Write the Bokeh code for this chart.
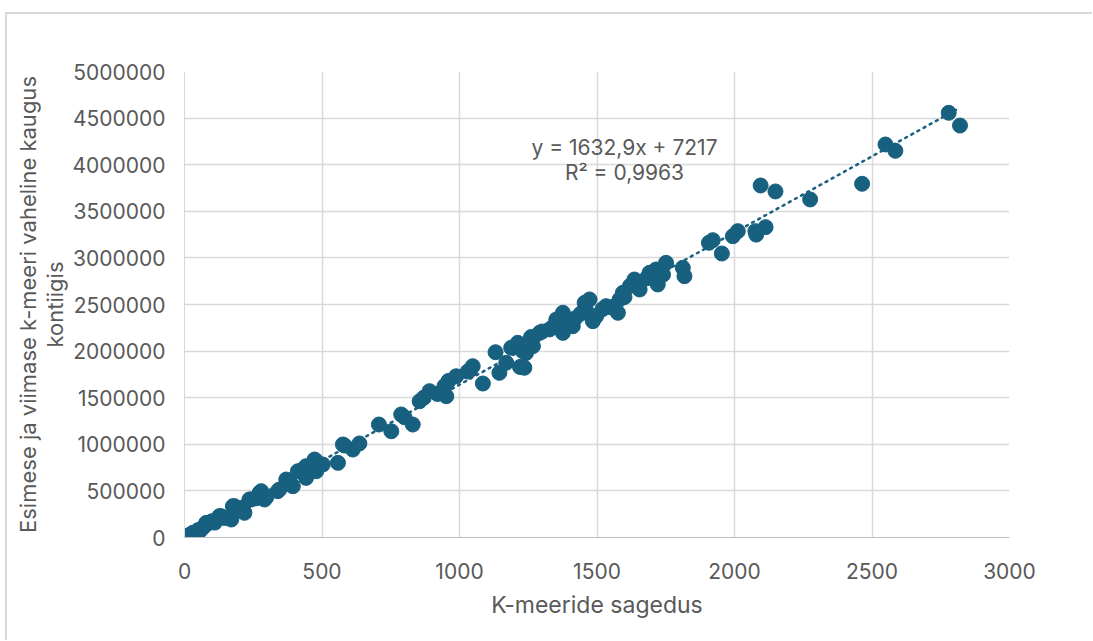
from bokeh.plotting import figure
from bokeh.models import Range1d, SingleIntervalTicker, NumeralTickFormatter, Label, ColumnDataSource
from bokeh.embed import file_html
from bokeh.resources import INLINE

# K-meeride sagedus (x) vs kaugus (y)
kmer_freq = [15, 20, 24, 30, 40, 50, 55, 65, 75, 79, 91, 100, 110, 127, 133, 145, 170, 176, 182, 200,
             212, 218, 236, 242, 260, 273, 279, 291, 297, 339, 345, 370, 376, 388, 394, 412, 430, 442,
             442, 473, 479, 479, 503, 558, 576, 582, 612, 636, 707, 752, 788, 800, 830, 855, 870, 891,
             920, 945, 952, 960, 988, 1030, 1040, 1048, 1085, 1131, 1145, 1170, 1188, 1212, 1220, 1230,
             1236, 1242, 1260, 1267, 1291, 1300, 1327, 1340, 1352, 1360, 1376, 1376, 1390, 1412, 1420,
             1440, 1455, 1460, 1473, 1485, 1497, 1520, 1533, 1550, 1576, 1582, 1594, 1600, 1620, 1636,
             1655, 1680, 1691, 1700, 1715, 1721, 1740, 1751, 1812, 1818, 1907, 1921, 1954, 1994, 2012,
             2076, 2079, 2095, 2113, 2149, 2275, 2464, 2549, 2585, 2779, 2820]
kmer_dist = [20000, 30000, 14000, 50000, 45000, 80000, 68000, 100000, 130000, 157000, 158000, 175000,
             160000, 229000, 229000, 210000, 193000, 336000, 336000, 300000, 319000, 265000, 408000,
             408000, 420000, 480000, 497000, 408000, 430000, 497000, 515000, 622000, 604000, 569000,
             550000, 711000, 730000, 765000, 640000, 837000, 819000, 711000, 783000, 801000, 998000,
             987000, 944000, 1009000, 1212000, 1140000, 1320000, 1290000, 1212000, 1462000, 1500000,
             1570000, 1540000, 1623000, 1516000, 1680000, 1730000, 1780000, 1800000, 1838000, 1652000,
             1988000, 1767000, 1875000, 2036000, 2089000, 1830000, 2000000, 1821000, 1980000, 2150000,
             2053000, 2196000, 2210000, 2232000, 2260000, 2339000, 2300000, 2411000, 2196000, 2300000,
             2267000, 2350000, 2400000, 2518000, 2440000, 2554000, 2321000, 2375000, 2450000, 2482000,
             2470000, 2411000, 2554000, 2626000, 2580000, 2700000, 2768000, 2661000, 2780000, 2840000,
             2800000, 2876000, 2715000, 2820000, 2947000, 2894000, 2804000, 3162000, 3190000, 3047000,
             3233000, 3287000, 3287000, 3250000, 3777000, 3330000, 3713000, 3627000, 3795000, 4217000,
             4149000, 4557000, 4420000]

slope = 1632.9
intercept = 7217
eq_text = "y = 1632,9x + 7217"
r2_text = "R² = 0,9963"

COLOR = "#18607f"
GREY = "#595959"
FONT = "Inter"

p = figure(width=1092, height=640, output_backend="svg", toolbar_location=None,
           x_range=Range1d(0, 3000), y_range=Range1d(0, 5000000),
           min_border_left=184, min_border_right=83, min_border_top=71, min_border_bottom=103)
p.outline_line_color = None
p.background_fill_color = "white"
p.border_fill_alpha = 0

# outer chart-area border (top and left edges, drawn behind the transparent canvas border)
p.styles = {
    "background": ("linear-gradient(#d9d9d9, #d9d9d9) 5px 12px / 1200px 2px no-repeat, "
                   "linear-gradient(#d9d9d9, #d9d9d9) 5px 12px / 2px 900px no-repeat, white"),
}

src = ColumnDataSource(dict(x=kmer_freq, y=kmer_dist))
p.scatter("x", "y", source=src, size=15, fill_color=COLOR, line_color=COLOR)

xmin, xmax = min(kmer_freq), max(kmer_freq)
p.line([xmin, xmax], [slope * xmin + intercept, slope * xmax + intercept],
       line_color=COLOR, line_width=2.5, line_dash="2 5", line_cap="round")

p.xaxis.ticker = SingleIntervalTicker(interval=500)
p.yaxis.ticker = SingleIntervalTicker(interval=500000)
p.yaxis.formatter = NumeralTickFormatter(format="0")
p.xaxis.formatter = NumeralTickFormatter(format="0")

for ax in (p.xaxis[0], p.yaxis[0]):
    ax.major_tick_line_color = None
    ax.minor_tick_line_color = None
    ax.major_label_text_font = FONT
    ax.major_label_text_font_size = "21px"
    ax.major_label_text_color = GREY
    ax.axis_label_text_font = FONT
    ax.axis_label_text_color = GREY
    ax.axis_label_text_font_style = "normal"

p.xaxis.axis_label_text_font_size = "23px"
p.yaxis.axis_label_text_font_size = "22px"
p.yaxis.axis_label_text_line_height = 1.05

p.xaxis.axis_line_color = "#bfbfbf"
p.yaxis.axis_line_color = "#d9d9d9"
p.xaxis.major_label_standoff = 19
p.yaxis.major_label_standoff = 13
p.xaxis.axis_label = "K-meeride sagedus"
p.yaxis.axis_label = "Esimese ja viimase k-meeri vaheline kaugus\nkontiigis"
p.xaxis.axis_label_standoff = 9
p.yaxis.axis_label_standoff = 1

p.xgrid.grid_line_color = "#d9d9d9"
p.ygrid.grid_line_color = "#d9d9d9"
p.xgrid.grid_line_width = 1.5
p.ygrid.grid_line_width = 1.5

p.add_layout(Label(x=1600, y=4180000, text=eq_text, text_align="center", text_baseline="middle",
                   text_font=FONT, text_font_size="21px", text_color=GREY))
p.add_layout(Label(x=1600, y=3920000, text=r2_text, text_align="center", text_baseline="middle",
                   text_font=FONT, text_font_size="21px", text_color=GREY))

open("out.html", "w").write(file_html(p, INLINE))
